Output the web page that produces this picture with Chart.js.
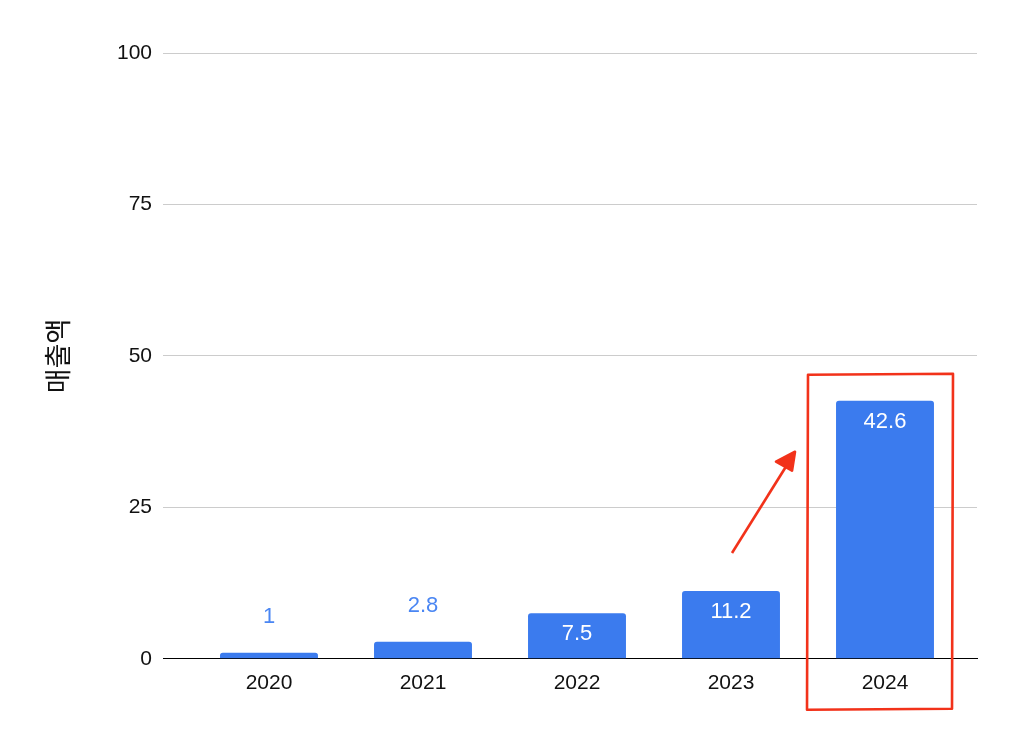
<!DOCTYPE html>
<html>
<head>
<meta charset="utf-8">
<script src="https://cdn.jsdelivr.net/npm/chart.js@4/dist/chart.umd.min.js"></script>
<style>
  html, body { margin: 0; padding: 0; background: #fff; }
  #wrap { width: 1010px; height: 753px; position: relative; }
</style>
</head>
<body>
<div id="wrap"><canvas id="c" width="1010" height="753"></canvas></div>
<script>
const categories = ['2020', '2021', '2022', '2023', '2024'];
const revenue = [1, 2.8, 7.5, 11.2, 42.6];
const yTicks = [0, 25, 50, 75, 100];
const yTitle = '매출액';

const years = categories.map(Number);
const BAR = '#3b7bee';
const LABEL_OUT = '#4a86f3';
const RED = '#f2321a';
const FONT = '"Liberation Sans", Arial, sans-serif';

const labelPlugin = {
  id: 'valueLabels',
  afterDatasetsDraw(chart) {
    const ctx = chart.ctx;
    const meta = chart.getDatasetMeta(0);
    ctx.save();
    ctx.font = '22px ' + FONT;
    ctx.textAlign = 'center';
    ctx.textBaseline = 'middle';
    meta.data.forEach((bar, i) => {
      const h = bar.base - bar.y;
      const txt = String(revenue[i]);
      if (h > 30) {
        ctx.fillStyle = '#ffffff';
        ctx.fillText(txt, bar.x, bar.y + 21);
      } else {
        ctx.fillStyle = LABEL_OUT;
        ctx.fillText(txt, bar.x, bar.y - 36);
      }
    });
    ctx.restore();
  }
};

const annotationPlugin = {
  id: 'redMarks',
  afterDraw(chart) {
    const ctx = chart.ctx;
    const xs = chart.scales.x, ys = chart.scales.y;
    const last = years.length - 1;
    const cx = xs.getPixelForValue(years[last]);
    const top = ys.getPixelForValue(revenue[last]);
    ctx.save();
    ctx.strokeStyle = RED;
    ctx.fillStyle = RED;
    ctx.lineWidth = 2.6;
    ctx.lineJoin = 'round';
    const L = cx - 77, R = cx + 67, T = top - 26, B = chart.chartArea.bottom + 50;
    ctx.beginPath();
    ctx.moveTo(L, T); ctx.lineTo(R + 1, T - 1); ctx.lineTo(R, B); ctx.lineTo(L - 1, B + 1); ctx.closePath();
    ctx.stroke();
    const px = xs.getPixelForValue(years[last - 1]);
    const py = ys.getPixelForValue(revenue[last - 1]);
    const tx = px + 1, ty = py - 38;
    const hx = cx - 90, hy = top + 51;
    ctx.beginPath();
    ctx.moveTo(tx, ty);
    ctx.lineTo(hx - 6, hy + 10);
    ctx.stroke();
    ctx.beginPath();
    ctx.moveTo(hx, hy);
    ctx.lineTo(hx - 19, hy + 10);
    ctx.lineTo(hx - 3, hy + 19);
    ctx.closePath();
    ctx.fill();
    ctx.stroke();
    ctx.restore();
  }
};

new Chart(document.getElementById('c'), {
  type: 'bar',
  data: {
    datasets: [{
      data: years.map((y, i) => ({ x: y, y: revenue[i] })),
      backgroundColor: BAR,
      borderRadius: 3,
      borderSkipped: 'start',
      categoryPercentage: 1,
      barPercentage: 0.636
    }]
  },
  options: {
    responsive: false,
    animation: false,
    devicePixelRatio: 1,
    layout: { padding: { top: 53, right: 33, bottom: 45, left: 0 } },
    plugins: { legend: { display: false }, tooltip: { enabled: false } },
    scales: {
      x: {
        type: 'linear',
        offset: false,
        min: 2019.3117,
        max: 2024.5974,
        afterBuildTicks: s => { s.ticks = years.map(v => ({ value: v })); },
        grid: { display: false, offset: false, drawTicks: false },
        border: { display: true, color: '#000', width: 1 },
        ticks: {
          padding: 12,
          color: '#111',
          font: { family: FONT, size: 21 },
          callback: v => String(v),
          maxRotation: 0,
          autoSkip: false
        }
      },
      y: {
        min: 0,
        max: 100,
        afterBuildTicks: s => { s.ticks = yTicks.map(v => ({ value: v })); },
        afterFit: s => { s.width = 163; },
        border: { display: false },
        grid: {
          drawTicks: false,
          color: c => (c.tick && c.tick.value === 0) ? '#000' : '#cccccc',
          lineWidth: 1
        },
        ticks: {
          padding: 11,
          color: '#111',
          font: { family: FONT, size: 21 }
        },
        title: {
          display: true,
          text: yTitle,
          color: '#111',
          font: { family: '"Noto Sans CJK KR", sans-serif', size: 27 },
          padding: { top: 42, bottom: 0 }
        }
      }
    }
  },
  plugins: [labelPlugin, annotationPlugin]
});
</script>
</body>
</html>
